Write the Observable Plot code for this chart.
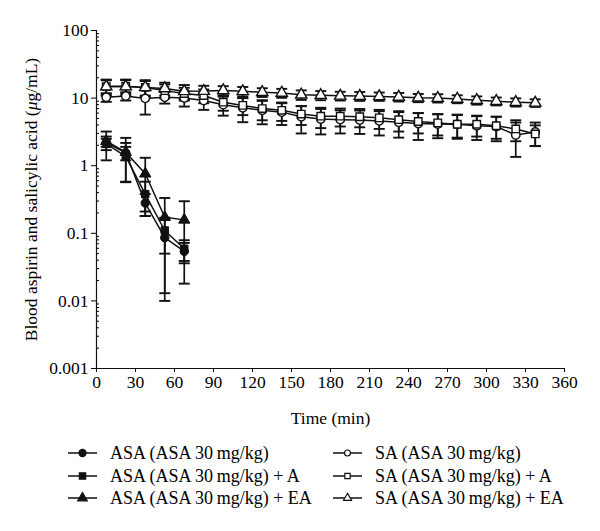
<!DOCTYPE html>
<html><head><meta charset="utf-8">
<script src="https://cdn.jsdelivr.net/npm/d3@7"></script>
<script src="https://cdn.jsdelivr.net/npm/@observablehq/plot@0.6"></script>
<style>
body{margin:0;background:#fff;}
#chart{width:600px;height:430px;}
#legend{position:relative;width:600px;height:101px;font-family:"Liberation Serif",serif;font-size:18px;color:#000;}
.item{position:absolute;display:flex;align-items:center;white-space:nowrap;height:20px;}
.item svg{margin-right:12px;}
</style></head><body><div id="chart"></div><div id="legend"></div>
<script>
// ---- data ----
const asaTimes = [7.5, 22.5, 37.5, 52.5, 67.5];
const saTimes = [7.5, 22.5, 37.5, 52.5, 67.5, 82.5, 97.5, 112.5, 127.5, 142.5, 157.5, 172.5,
                 187.5, 202.5, 217.5, 232.5, 247.5, 262.5, 277.5, 292.5, 307.5, 322.5, 337.5];

const asaMean   = [2.2, 1.55, 0.28, 0.086, 0.054];
const asaSd     = [1.0, 0.35, 0.10, 0.076, 0.018];
const asaAMean  = [2.1, 1.37, 0.38, 0.11, 0.059];
const asaASd    = [0.4, 0.80, 0.20, 0.06, 0.020];
const asaEAMean = [2.3, 1.58, 0.76, 0.173, 0.158];
const asaEASd   = [0.4, 1.00, 0.55, 0.160, 0.140];

const saMean   = [10.3, 10.7, 9.9, 10.3, 10.0, 9.2, 8.0, 7.2, 6.6, 6.2, 5.3, 4.9,
                  4.8, 4.75, 4.6, 4.4, 4.2, 4.15, 4.1, 3.9, 3.8, 2.85, 3.15];
const saSd     = [1.5, 1.5, 4.2, 2.0, 2.5, 2.5, 2.5, 2.8, 2.5, 2.2, 2.3, 2.0,
                  1.8, 1.8, 1.8, 1.8, 1.8, 1.6, 1.6, 1.5, 1.5, 1.5, 1.2];
const saAMean  = [14.8, 15.0, 14.4, 12.9, 11.7, 10.9, 8.7, 7.8, 7.0, 6.6, 5.8, 5.4,
                  5.4, 5.3, 5.1, 4.8, 4.5, 4.3, 4.1, 4.1, 3.9, 3.5, 2.95];
const saASd    = [3.5, 3.5, 3.5, 3.0, 2.5, 2.5, 2.2, 2.2, 2.3, 2.0, 1.8, 1.8,
                  1.6, 1.6, 1.6, 1.6, 1.5, 1.5, 1.5, 1.4, 1.4, 1.2, 1.0];
const saEAMean = [14.8, 14.8, 14.4, 13.9, 12.6, 12.7, 13.0, 12.6, 12.2, 11.9, 11.2, 11.0,
                  10.8, 10.7, 10.6, 10.4, 10.1, 10.0, 9.7, 9.3, 9.0, 8.7, 8.5];
const saEASd   = [4.0, 4.0, 4.0, 3.0, 3.0, 2.5, 2.0, 2.0, 1.8, 1.8, 1.8, 1.7,
                  1.6, 1.6, 1.5, 1.5, 1.4, 1.4, 1.3, 1.3, 1.2, 1.2, 1.1];

const seriesNames = ["ASA (ASA 30 mg/kg)", "ASA (ASA 30 mg/kg) + A", "ASA (ASA 30 mg/kg) + EA",
                     "SA (ASA 30 mg/kg)", "SA (ASA 30 mg/kg) + A", "SA (ASA 30 mg/kg) + EA"];
const seriesSymbols = ["circle", "square", "triangle", "circle", "square", "triangle"];
const seriesFilled = [true, true, true, false, false, false];

const xTicks = [0, 30, 60, 90, 120, 150, 180, 210, 240, 270, 300, 330, 360];
const yTicks = [0.001, 0.01, 0.1, 1, 10, 100];
const yTickLabels = ["0.001", "0.01", "0.1", "1", "10", "100"];

// ---- build table ----
const table = [];
function add(name, times, mean, sd) {
  times.forEach((t, i) => table.push({series: name, t, mean: mean[i], sd: sd[i]}));
}
add(seriesNames[0], asaTimes, asaMean, asaSd);
add(seriesNames[1], asaTimes, asaAMean, asaASd);
add(seriesNames[2], asaTimes, asaEAMean, asaEASd);
add(seriesNames[3], saTimes, saMean, saSd);
add(seriesNames[4], saTimes, saAMean, saASd);
add(seriesNames[5], saTimes, saEAMean, saEASd);

const filledSet = new Set(seriesNames.filter((n, i) => seriesFilled[i]));
const filled = table.filter(d => filledSet.has(d.series));
const open = table.filter(d => !filledSet.has(d.series));

const cap = {draw(ctx, size) { const w = Math.sqrt(size / Math.PI); ctx.moveTo(-w, 0); ctx.lineTo(w, 0); }};
const minorTicks = yTicks.slice(0, -1).flatMap(d => [2,3,4,5,6,7,8,9].map(k => d * k));
const yLabel = "Blood aspirin and salicylic acid (μg/mL)";

const font = "'Liberation Serif', serif";
const plot = Plot.plot({
  width: 600, height: 430,
  marginLeft: 96, marginRight: 36, marginTop: 30, marginBottom: 62,
  style: {fontFamily: font, fontSize: "17.5px", color: "#000", background: "white"},
  x: {domain: [0, 360]},
  y: {type: "log", domain: [0.001, 100]},
  symbol: {domain: seriesNames, range: seriesSymbols},
  marks: [
    Plot.axisX({ticks: xTicks, tickSize: 4, tickPadding: 3, label: "Time (min)", labelAnchor: "center", labelOffset: 55, labelArrow: "none", fontSize: 17.5}),
    Plot.axisY({ticks: minorTicks, tickSize: -3, tickFormat: () => "", label: null}),
    Plot.axisY({ticks: yTicks, tickSize: 5, tickPadding: 3, tickFormat: d => yTickLabels[yTicks.indexOf(d)], label: yLabel, labelAnchor: "center", labelOffset: 72, labelArrow: "none", fontSize: 17.5}),
    Plot.ruleX([0], {stroke: "#111", strokeWidth: 1.2}),
    Plot.ruleY([0.001], {stroke: "#111", strokeWidth: 1.2}),
    Plot.ruleX(table, {x: "t", y1: d => d.mean - d.sd, y2: d => d.mean + d.sd, stroke: "#111", strokeWidth: 1.7}),
    Plot.dot(table, {x: "t", y: d => d.mean + d.sd, symbol: cap, r: 5.5, stroke: "#111", strokeWidth: 1.9}),
    Plot.dot(table, {x: "t", y: d => d.mean - d.sd, symbol: cap, r: 5.5, stroke: "#111", strokeWidth: 1.9}),
    Plot.line(table, {x: "t", y: "mean", z: "series", stroke: "#111", strokeWidth: 1.5}),
    Plot.dot(open, {x: "t", y: "mean", symbol: "series", r: 4.2, fill: "white", stroke: "#111", strokeWidth: 1.4}),
    Plot.dot(filled, {x: "t", y: "mean", symbol: "series", r: 4.2, fill: "#111", stroke: "#111", strokeWidth: 1})
  ]
});
document.getElementById("chart").appendChild(plot);

// italic μ in the y label
d3.select(plot).selectAll("text").each(function() {
  if (this.textContent === yLabel) {
    const t = d3.select(this);
    t.text(null);
    t.append("tspan").text("Blood aspirin and salicylic acid (");
    t.append("tspan").attr("font-style", "italic").text("μ");
    t.append("tspan").text("g/mL)");
  }
});

// ---- legend ----
const legend = d3.select("#legend");
const legendRows = [23, 46, 68];
const legendCols = [68, 333];
const symGen = {circle: d3.symbolCircle, square: d3.symbolSquare, triangle: d3.symbolTriangle};
seriesNames.forEach((name, i) => {
  const col = i < 3 ? 0 : 1, row = i % 3;
  const item = legend.append("div").attr("class", "item")
    .style("left", legendCols[col] + "px").style("top", (legendRows[row] - 10) + "px");
  const s = item.append("svg").attr("width", 30).attr("height", 14);
  s.append("line").attr("x1", 0).attr("x2", 29).attr("y1", 7).attr("y2", 7).attr("stroke", "#111").attr("stroke-width", 1.5);
  s.append("path").attr("transform", "translate(14.5,7)")
    .attr("d", d3.symbol(symGen[seriesSymbols[i]], seriesFilled[i] ? 40 : 28)())
    .attr("fill", seriesFilled[i] ? "#111" : "white").attr("stroke", "#111").attr("stroke-width", 1.2);
  item.append("span").text(name.replace(/30 mg/, "30\u2009mg"));
});
</script>
</body></html>
